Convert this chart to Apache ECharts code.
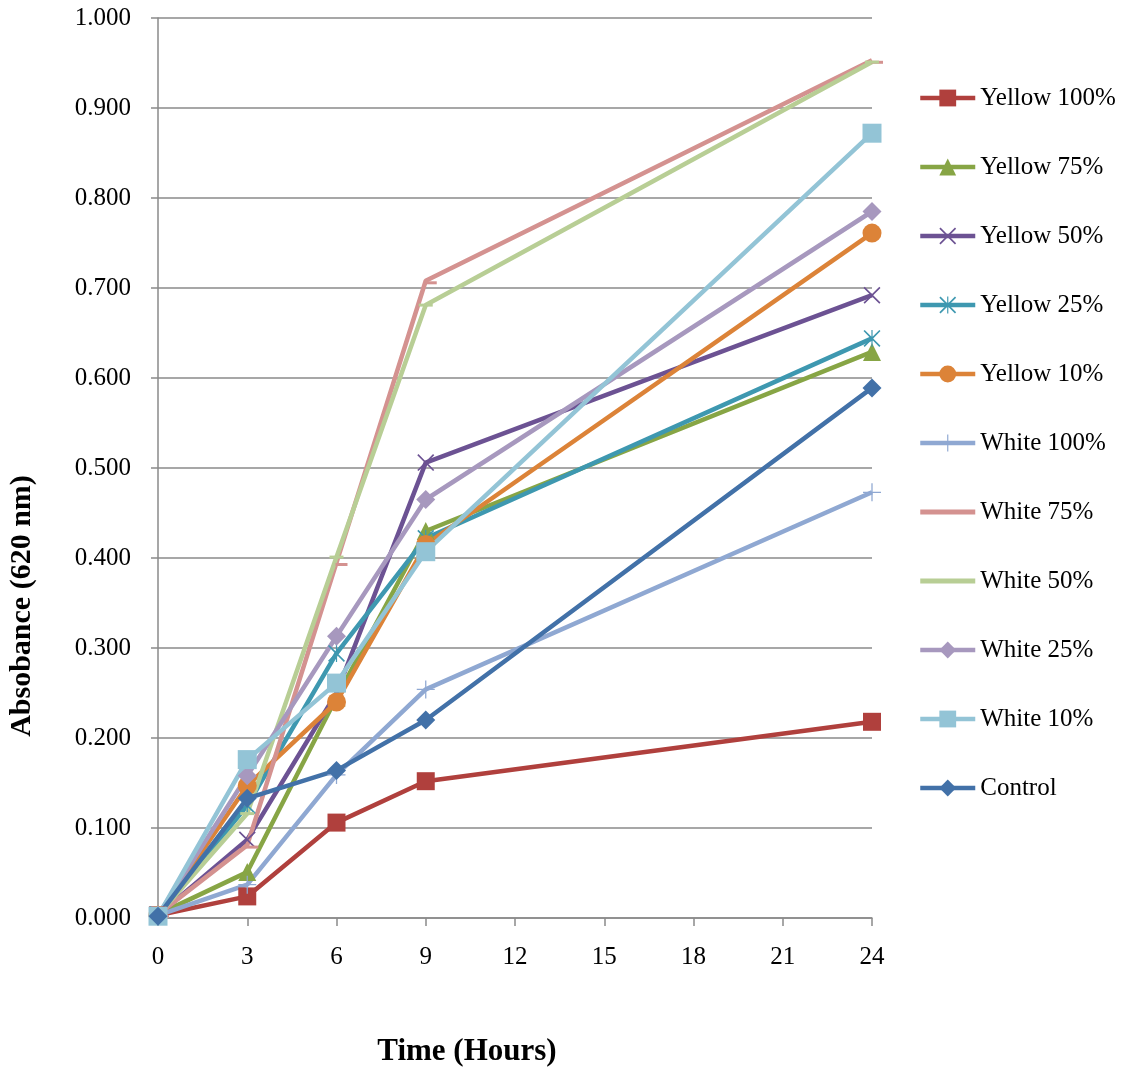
<!DOCTYPE html>
<html>
<head>
<meta charset="utf-8">
<script src="https://cdn.jsdelivr.net/npm/echarts@6/dist/echarts.min.js"></script>
<style>
  html, body { margin: 0; padding: 0; background: #fff; }
  #chart { width: 1130px; height: 1069px; }
</style>
</head>
<body>
<div id="chart"></div>
<script>
// Sampling times (hours)
const hours = [0, 3, 6, 9, 24];
const xTicks = [0, 3, 6, 9, 12, 15, 18, 21, 24];

// Absorbance at 620 nm for each treatment
const yellow100 = [0.003, 0.024, 0.106, 0.152, 0.218];
const yellow75  = [0.004, 0.051, 0.245, 0.430, 0.629];
const yellow50  = [0.003, 0.087, 0.250, 0.506, 0.692];
const yellow25  = [0.004, 0.125, 0.294, 0.422, 0.644];
const yellow10  = [0.003, 0.147, 0.240, 0.415, 0.761];
const white100  = [0.003, 0.037, 0.159, 0.254, 0.473];
const white75   = [0.004, 0.081, 0.395, 0.708, 0.953];
const white50   = [0.003, 0.116, 0.401, 0.681, 0.951];
const white25   = [0.003, 0.158, 0.313, 0.465, 0.785];
const white10   = [0.002, 0.176, 0.261, 0.407, 0.872];
const control   = [0.002, 0.133, 0.164, 0.220, 0.589];

const seriesNames = ['Yellow 100%', 'Yellow 75%', 'Yellow 50%', 'Yellow 25%', 'Yellow 10%',
  'White 100%', 'White 75%', 'White 50%', 'White 25%', 'White 10%', 'Control'];
const seriesValues = [yellow100, yellow75, yellow50, yellow25, yellow10,
  white100, white75, white50, white25, white10, control];

// Marker shapes built from thin filled bars
const CROSS_X = 'path://M1.4,0L10,8.6L18.6,0L20,1.4L11.4,10L20,18.6L18.6,20L10,11.4L1.4,20L0,18.6L8.6,10L0,1.4Z';
const STAR = 'path://M1.4,0L10,8.6L18.6,0L20,1.4L11.4,10L20,18.6L18.6,20L10,11.4L1.4,20L0,18.6L8.6,10L0,1.4Z M9.3,0L10.7,0L10.7,20L9.3,20Z';
const PLUS = 'path://M9.3,0L10.7,0L10.7,9.3L20,9.3L20,10.7L10.7,10.7L10.7,20L9.3,20L9.3,10.7L0,10.7L0,9.3L9.3,9.3Z';
const DASH = 'path://M0,0L20,0L20,4L0,4Z';

const styles = [
  { color: '#B0403D', symbol: 'rect', size: 18 },
  { color: '#87A545', symbol: 'triangle', size: 18 },
  { color: '#6C5293', symbol: CROSS_X, size: 17 },
  { color: '#3E98B0', symbol: STAR, size: 17 },
  { color: '#DC8338', symbol: 'circle', size: 19 },
  { color: '#8FA8D2', symbol: PLUS, size: 18 },
  { color: '#D49290', symbol: DASH, size: [12, 3], offset: [5, 2] },
  { color: '#B8CE95', symbol: DASH, size: [14, 3], offset: [0, 0] },
  { color: '#A798BE', symbol: 'diamond', size: 19 },
  { color: '#93C4D6', symbol: 'rect', size: 19 },
  { color: '#4271A8', symbol: 'diamond', size: 19 }
];

const series = seriesNames.map((name, i) => ({
  name: name,
  type: 'line',
  data: hours.map((h, j) => [h, seriesValues[i][j]]),
  symbol: styles[i].symbol,
  symbolSize: styles[i].size,
  symbolOffset: styles[i].offset || [0, 0],
  symbolKeepAspect: false,
  showAllSymbol: true,
  lineStyle: { width: 4.5, color: styles[i].color },
  itemStyle: { color: styles[i].color },
  emphasis: { disabled: true },
  animation: false
}));

const serif = '"Liberation Serif", "Times New Roman", serif';

const legendData = seriesNames.map((name) => {
  if (name === 'White 75%' || name === 'White 50%') {
    return { name: name, icon: 'path://M0,0L55,0L55,5L0,5Z' };
  }
  return { name: name };
});

const chart = echarts.init(document.getElementById('chart'), null, { renderer: 'canvas' });
chart.setOption({
  backgroundColor: '#ffffff',
  animation: false,
  grid: { left: 158, right: 258, top: 18, bottom: 151, containLabel: false },
  xAxis: {
    type: 'value',
    min: xTicks[0],
    max: xTicks[xTicks.length - 1],
    interval: 3,
    axisLine: { show: true, lineStyle: { color: '#8a8a8a', width: 1.5 } },
    axisTick: { show: true, inside: false, length: 8, lineStyle: { color: '#8a8a8a', width: 1.5 } },
    axisLabel: { color: '#000', fontFamily: serif, fontSize: 25, margin: 27 },
    splitLine: { show: false }
  },
  yAxis: {
    type: 'value',
    min: 0,
    max: 1,
    interval: 0.1,
    axisLine: { show: true, lineStyle: { color: '#8a8a8a', width: 1.5 } },
    axisTick: { show: true, inside: false, length: 7, lineStyle: { color: '#8a8a8a', width: 1.5 } },
    axisLabel: {
      color: '#000', fontFamily: serif, fontSize: 25, margin: 27,
      formatter: v => v.toFixed(3)
    },
    splitLine: { show: true, lineStyle: { color: '#8a8a8a', width: 1.5 } }
  },
  legend: {
    orient: 'vertical',
    left: 913,
    top: 79,
    itemWidth: 55,
    itemHeight: 21,
    itemGap: 41,
    data: legendData,
    lineStyle: { width: 4.5 },
    textStyle: { color: '#000', fontFamily: serif, fontSize: 25, lineHeight: 28 },
    selectedMode: false
  },
  graphic: [
    {
      type: 'text',
      x: 467, y: 1052,
      style: {
        text: 'Time (Hours)',
        font: 'bold 31px ' + serif,
        fill: '#000',
        textAlign: 'center',
        textVerticalAlign: 'middle'
      }
    },
    {
      type: 'text',
      x: 22, y: 606,
      rotation: Math.PI / 2,
      style: {
        text: 'Absobance (620 nm)',
        font: 'bold 30px ' + serif,
        fill: '#000',
        textAlign: 'center',
        textVerticalAlign: 'middle'
      }
    }
  ],
  series: series
});
</script>
</body>
</html>
